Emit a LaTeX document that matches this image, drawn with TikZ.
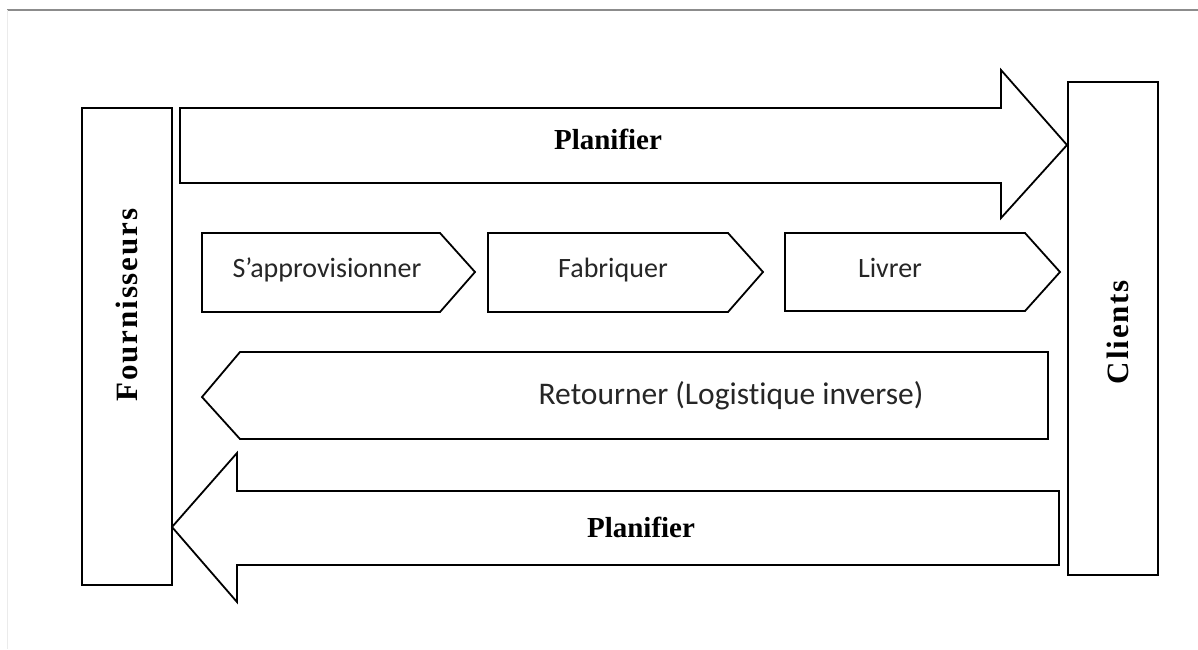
\documentclass[tikz,border=0pt]{standalone}
\usepackage{fontspec}
\setmainfont{Liberation Serif}
\newfontfamily\calib[Ligatures=NoCommon]{Carlito}
\newfontfamily\serifsp[LetterSpace=6]{Liberation Serif}
\begin{document}
\begin{tikzpicture}[x=1pt,y=-1pt,
  shp/.style={draw=black,line width=1.8pt,line join=miter,fill=white},
  serifbig/.style={font=\fontsize{29}{32}\selectfont\bfseries,inner sep=0pt},
  sidelbl/.style={font=\serifsp\fontsize{31}{34}\selectfont\bfseries,inner sep=0pt,rotate=90},
  sanslbl/.style={font=\calib\fontsize{28}{31}\selectfont,inner sep=0pt,text=black!85}]
\useasboundingbox (0,0) rectangle (1198,649);
\fill[white] (0,0) rectangle (1198,649);
\draw[black!45,line width=2.5pt] (7,10) -- (1198,10);
\draw[black!8,line width=0.8pt] (7,10) -- (7,649);
% side boxes
\draw[shp] (82,108) rectangle (172,585);
\draw[shp] (1068,82) rectangle (1158,575);
\node[sidelbl] (four) at (127,305) {Fournisseurs};
\node[sidelbl] (cli) at (1118,332) {Clients};
% top planifier arrow
\draw[shp] (180,108) -- (1001,108) -- (1001,70) -- (1067,145) -- (1001,218) -- (1001,183) -- (180,183) -- cycle;
\node[serifbig] (plan1) at (608,139) {Planifier};
% chevrons
\draw[shp] (202,233) -- (440,233) -- (475,272) -- (440,312) -- (202,312) -- cycle;
\draw[shp] (488,233) -- (728,233) -- (763,272) -- (728,312) -- (488,312) -- cycle;
\draw[shp] (785,233) -- (1025,233) -- (1060,272) -- (1025,311) -- (785,311) -- cycle;
\node[sanslbl] (appro) at (327,270) {S’approvisionner};
\node[sanslbl] (fab) at (613,270) {Fabriquer};
\node[sanslbl] (liv) at (890,268) {Livrer};
% retourner
\draw[shp] (1048,352) -- (240,352) -- (202,397) -- (240,439) -- (1048,439) -- cycle;
\node[sanslbl,font=\calib\fontsize{31.5}{34}\selectfont] (ret) at (731,396) {Retourner (Logistique inverse)};
% bottom planifier arrow
\draw[shp] (1059,491) -- (237,491) -- (237,453) -- (172,527) -- (237,602) -- (237,565) -- (1059,565) -- cycle;
\node[serifbig] (plan2) at (641,527) {Planifier};
\end{tikzpicture}
\end{document}
